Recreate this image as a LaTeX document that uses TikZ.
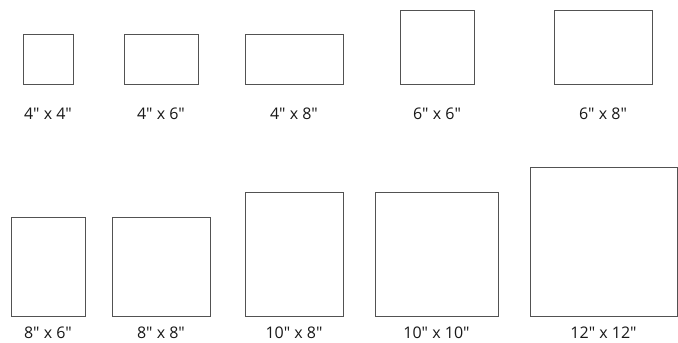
\documentclass[tikz,border=0pt]{standalone}
\usepackage{fontspec}
\setmainfont{Open Sans}
\begin{document}
\begin{tikzpicture}[x=1pt,y=-1pt,
  frame/.style={draw=black!68,line width=1pt,inner sep=0pt,minimum width=#1},
  lab/.style={font=\fontsize{16}{18}\selectfont,text=black!90,inner sep=0pt,anchor=center}]
\useasboundingbox[fill=white] (0,0) rectangle (678,343);
% row 1
\node[frame=50pt,minimum height=50pt] (b44) at (48,59) {};
\node[frame=74pt,minimum height=50pt] (b46) at (161,59) {};
\node[frame=98pt,minimum height=50pt] (b48) at (294,59) {};
\node[frame=74pt,minimum height=74pt] (b66) at (437,47) {};
\node[frame=98pt,minimum height=74pt] (b68) at (603,47) {};
\node[lab] (l44) at (48,114) {4\textquotedbl{} x 4\textquotedbl};
\node[lab] (l46) at (161,114) {4\textquotedbl{} x 6\textquotedbl};
\node[lab] (l48) at (294,114) {4\textquotedbl{} x 8\textquotedbl};
\node[lab] (l66) at (437,114) {6\textquotedbl{} x 6\textquotedbl};
\node[lab] (l68) at (603,114) {6\textquotedbl{} x 8\textquotedbl};
% row 2
\node[frame=74pt,minimum height=99pt] (b86) at (48,266.5) {};
\node[frame=98pt,minimum height=99pt] (b88) at (161,266.5) {};
\node[frame=98pt,minimum height=124pt] (b108) at (294,254) {};
\node[frame=123pt,minimum height=124pt] (b1010) at (436.5,254) {};
\node[frame=147pt,minimum height=149pt] (b1212) at (603.5,241.5) {};
\node[lab] (l86) at (48,333) {8\textquotedbl{} x 6\textquotedbl};
\node[lab] (l88) at (161,333) {8\textquotedbl{} x 8\textquotedbl};
\node[lab] (l108) at (294,333) {10\textquotedbl{} x 8\textquotedbl};
\node[lab] (l1010) at (436.5,333) {10\textquotedbl{} x 10\textquotedbl};
\node[lab] (l1212) at (603.5,333) {12\textquotedbl{} x 12\textquotedbl};
\end{tikzpicture}
\end{document}
